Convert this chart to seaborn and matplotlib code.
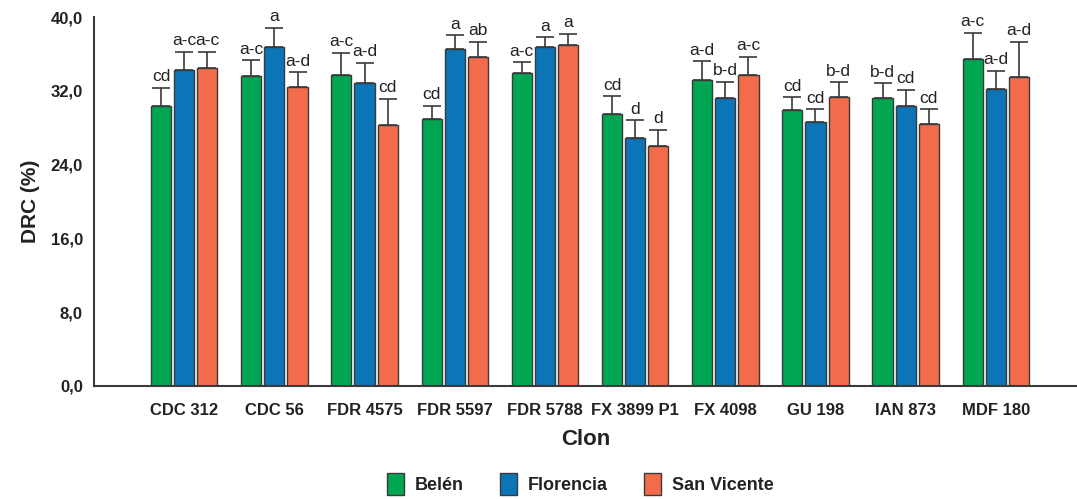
import matplotlib
matplotlib.use("Agg")
import matplotlib.pyplot as plt
import seaborn as sns
import pandas as pd
import numpy as np
from matplotlib.patches import Patch

clones = ["CDC 312", "CDC 56", "FDR 4575", "FDR 5597", "FDR 5788",
          "FX 3899 P1", "FX 4098", "GU 198", "IAN 873", "MDF 180"]
sites = ["Belén", "Florencia", "San Vicente"]

belen = [30.3, 33.6, 33.7, 28.9, 33.9, 29.5, 33.2, 29.9, 31.2, 35.4]
florencia = [34.3, 36.8, 32.8, 36.5, 36.7, 26.9, 31.2, 28.6, 30.4, 32.2]
san_vicente = [34.5, 32.4, 28.3, 35.7, 37.0, 26.0, 33.7, 31.3, 28.4, 33.5]

err_belen = [2.0, 1.7, 2.4, 1.5, 1.2, 1.9, 2.0, 1.4, 1.6, 2.9]
err_florencia = [1.9, 2.0, 2.2, 1.5, 1.1, 1.9, 1.8, 1.4, 1.7, 2.0]
err_san_vicente = [1.7, 1.6, 2.8, 1.6, 1.2, 1.8, 2.0, 1.6, 1.6, 3.8]

letters_belen = ["cd", "a-c", "a-c", "cd", "a-c", "cd", "a-d", "cd", "b-d", "a-c"]
letters_florencia = ["a-c", "a", "a-d", "a", "a", "d", "b-d", "cd", "cd", "a-d"]
letters_san_vicente = ["a-c", "a-d", "cd", "ab", "a", "d", "a-c", "b-d", "cd", "a-d"]

colors = ["#00A651", "#0B75B8", "#F26C4B"]

df = pd.DataFrame({
    "Clon": clones * 3,
    "Sitio": [s for s in sites for _ in clones],
    "DRC": belen + florencia + san_vicente,
    "err": err_belen + err_florencia + err_san_vicente,
    "letra": letters_belen + letters_florencia + letters_san_vicente,
})

sns.set_style("white")
plt.rcParams["font.family"] = ["Liberation Sans", "DejaVu Sans"]

fig = plt.figure(figsize=(10.77, 4.99), dpi=100)
ax = fig.add_axes([94 / 1077, 1 - 386 / 499, 1 - 94 / 1077, (386 - 17) / 499])

sns.barplot(data=df, x="Clon", y="DRC", hue="Sitio", order=clones, hue_order=sites,
            palette=colors, saturation=1, width=0.77, gap=0.13, errorbar=None,
            edgecolor="#3a3a3a", linewidth=1.0, ax=ax, legend=False)

# upper error bars and significance letters, placed on each drawn bar
for container, site in zip(ax.containers, sites):
    sub = df[df["Sitio"] == site].set_index("Clon").loc[clones]
    for bar, (_, row) in zip(container.patches, sub.iterrows()):
        xc = bar.get_x() + bar.get_width() / 2
        top = bar.get_height()
        ax.errorbar(xc, top, yerr=[[0], [row["err"]]], fmt="none",
                    ecolor="#3a3a3a", elinewidth=1.2, capsize=6.5, capthick=1.2, zorder=3)
        ax.text(xc, top + row["err"] + 0.4, row["letra"], ha="center", va="bottom",
                fontsize=12.5, color="#222222")

ax.set_xlim(-1.0, 9.9)
ax.set_ylim(0, 40)
ax.set_yticks(np.arange(0, 40.1, 8))
ax.set_yticklabels([f"{v:.1f}".replace(".", ",") for v in np.arange(0, 40.1, 8)])

for side in ["top", "right"]:
    ax.spines[side].set_visible(False)
for side in ["left", "bottom"]:
    ax.spines[side].set_color("#3a3a3a")
    ax.spines[side].set_linewidth(1.5)

ax.tick_params(axis="both", direction="out", length=5, width=1.2, color="#3a3a3a",
               labelsize=12, pad=3)
ax.tick_params(axis="x", pad=7)
for lbl in ax.get_xticklabels() + ax.get_yticklabels():
    lbl.set_fontweight("bold")
    lbl.set_color("#222222")

ax.set_xlabel("Clon", fontsize=16, fontweight="bold", color="#222222", labelpad=8)
ax.set_ylabel("DRC (%)", fontsize=15, fontweight="bold", color="#222222", labelpad=8)

handles = [Patch(facecolor=c, edgecolor="#3a3a3a", linewidth=1.0) for c in colors]
leg = fig.legend(handles, sites, loc="center", bbox_to_anchor=(0.539, 0.03), ncol=3,
                 frameon=False, handlelength=0.95, handleheight=1.5, columnspacing=2.0,
                 handletextpad=0.6, prop={"weight": "bold", "size": 13})
for t in leg.get_texts():
    t.set_color("#222222")

fig.savefig("out.png", dpi=100)
